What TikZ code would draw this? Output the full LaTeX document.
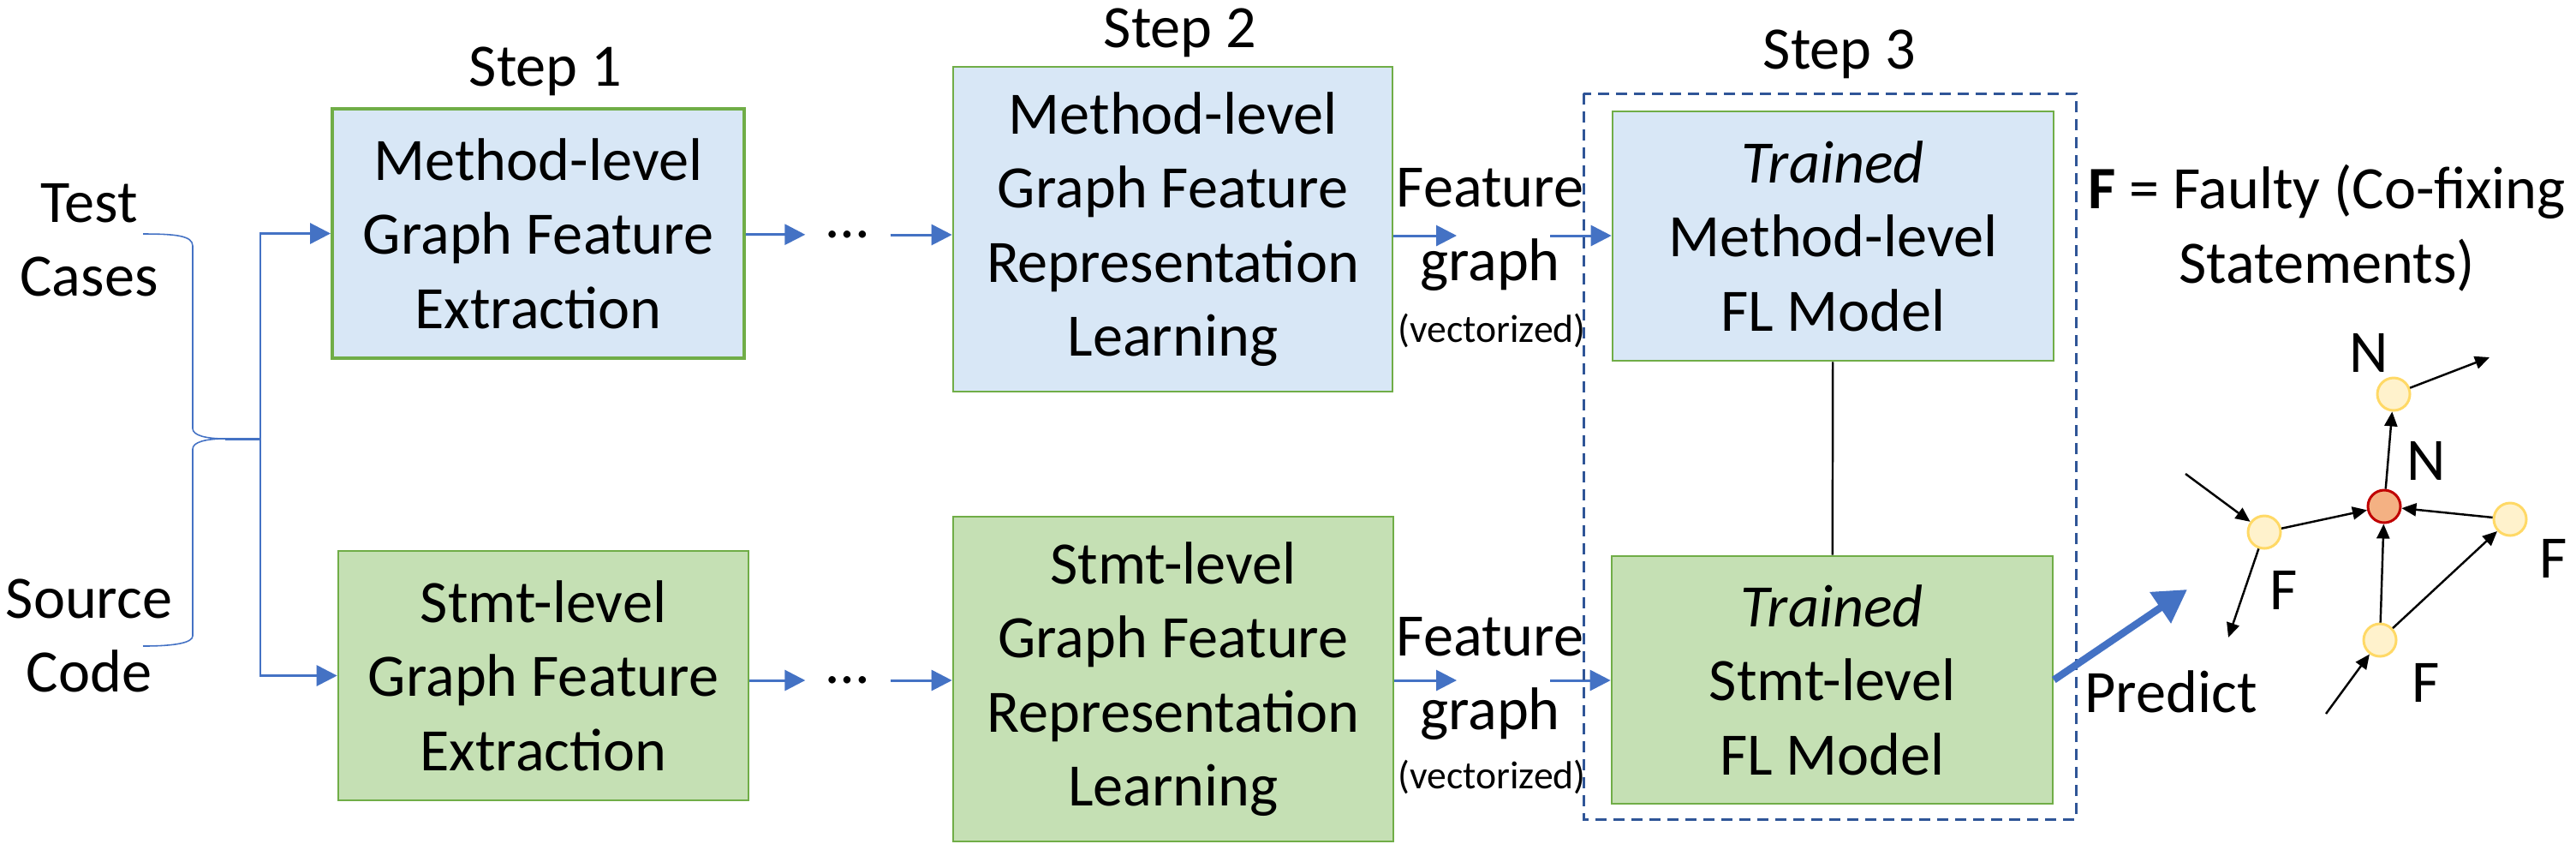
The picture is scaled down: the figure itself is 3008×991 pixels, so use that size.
\documentclass[tikz,border=0pt]{standalone}
\usepackage{fontspec}
\setmainfont{Carlito}
\usepackage{tikz}
\usetikzlibrary{arrows.meta}
\usepackage{xcolor}
\definecolor{arrowblue}{HTML}{4472C4}
\definecolor{boxgreen}{HTML}{70AD47}
\definecolor{fillgreen}{HTML}{C5E0B4}
\definecolor{fillblue}{HTML}{D8E7F6}
\definecolor{dashblue}{HTML}{2F5597}
\definecolor{nodefill}{HTML}{FFF2CC}
\definecolor{nodeline}{HTML}{FFD966}
\definecolor{hotfill}{HTML}{F4B183}
\definecolor{hotline}{HTML}{C00000}

\begin{document}
\begin{tikzpicture}[x=0.1mm, y=-0.1mm,
    every node/.style={font=\fontsize{20}{24.6}\selectfont},
    mbox/.style={draw=boxgreen, fill=fillblue, line width=0.75pt, align=center, inner sep=0pt},
    sbox/.style={mbox, fill=fillgreen},
    flow/.style={arrowblue, line width=0.85pt, -{Triangle[length=2.4mm,width=2.4mm]}},
    garrow/.style={line width=0.7pt, -{Triangle[length=1.7mm,width=1.5mm]}},
    vtx/.style={circle, draw=nodeline, fill=nodefill, line width=0.85pt, minimum size=3.8mm, inner sep=0pt},
    hot/.style={vtx, draw=hotline, fill=hotfill},
    txt/.style={align=center, inner sep=0pt}]
  \useasboundingbox (0,0) rectangle (3008,991);

  % inputs and the brace
  \node[txt] (tests) at (104,280) {Test\\Cases};
  \node[txt] (source) at (104,742) {Source\\Code};
  \draw[arrowblue, line width=0.45pt] (167,273) .. controls (205,273) and (225,275) .. (225,287)
    -- (225,500) .. controls (225,508) and (240,512) .. (263,512)
    .. controls (240,512) and (225,516) .. (225,524)
    -- (225,742) .. controls (225,750) and (205,754) .. (167,754);
  \coordinate (split) at (304,512);
  \draw[arrowblue, line width=0.85pt] (263,512) -- (split);

  % steps
  \node[anchor=base] (step1) at (637,100) {Step 1};
  \node[anchor=base] (step2) at (1378,55) {Step 2};
  \node[anchor=base] (step3) at (2148,80) {Step 3};

  % method-level row
  \node[mbox, line width=1.1pt, minimum width=48.1mm, minimum height=29.1mm] (mext) at (628.5,272.5)
    {Method-level\\Graph Feature\\Extraction};
  \node[mbox, minimum width=51.3mm, minimum height=37.9mm] (mrep) at (1369.5,267.5)
    {Method-level\\Graph Feature\\Representation\\Learning};
  \node[mbox, minimum width=51.5mm, minimum height=29.1mm] (mfl) at (2140.5,275.5)
    {\textit{Trained}\\Method-level\\FL Model};

  % stmt-level row
  \node[sbox, minimum width=47.9mm, minimum height=29.1mm] (sext) at (634.5,788.5)
    {Stmt-level\\Graph Feature\\Extraction};
  \node[sbox, minimum width=51.4mm, minimum height=37.9mm] (srep) at (1370,792.5)
    {Stmt-level\\Graph Feature\\Representation\\Learning};
  \node[sbox, minimum width=51.5mm, minimum height=28.9mm] (sfl) at (2139.5,793.5)
    {\textit{Trained}\\Stmt-level\\FL Model};

  \node[minimum width=9.8mm, inner sep=0pt] (mdots) at (990,274) {…};
  \node[minimum width=9.8mm, inner sep=0pt] (sdots) at (990,794) {…};

  \node[txt] (mfeat) at (1740,268) {Feature\\graph};
  \node[txt, font=\fontsize{13}{15}\selectfont] (mvec) at (1742,386) {(vectorized)};
  \node[txt] (sfeat) at (1740,792) {Feature\\graph};
  \node[txt, font=\fontsize{13}{15}\selectfont] (svec) at (1742,907) {(vectorized)};
  \coordinate (mfa) at (1701,275);
  \coordinate (mfb) at (1810,275);
  \coordinate (sfa) at (1701,794);
  \coordinate (sfb) at (1810,794);

  % flow arrows
  \draw[flow] (split) |- (mext);
  \draw[flow] (split) |- (sext);
  \draw[flow] (mext) -- (mdots);
  \draw[flow] (mdots) -- (mdots -| mrep.west);
  \draw[flow] (sdots -| sext.east) -- (sdots);
  \draw[flow] (sdots) -- (sdots -| srep.west);
  \draw[flow] (mfa -| mrep.east) -- (mfa);
  \draw[flow] (mfb) -- (mfb -| mfl.west);
  \draw[flow] (sfa -| srep.east) -- (sfa);
  \draw[flow] (sfb) -- (sfb -| sfl.west);
  \draw[line width=0.7pt] (mfl) -- (sfl);

  % step 3 frame
  \draw[dashblue, line width=0.85pt, dash pattern=on 1.3mm off 0.8mm] (1849,109) rectangle (2424,956);

  \node[txt] (legend) at (2717,266) {\textbf{F} = Faulty (Co-fixing\\Statements)};

  % prediction
  \coordinate (ptip) at (2554,688);
  \draw[arrowblue, line width=2.4pt, -{Triangle[length=3.8mm,width=4.2mm]}] (sfl.east) -- (ptip);
  \node[anchor=base] (predict) at (2535,831) {Predict};

  % statement graph
  \node[hot] (hub) at (2784,591) {};
  \node[vtx] (ntop) at (2795,460) {};
  \node[vtx] (fleft) at (2644,621) {};
  \node[vtx] (fright) at (2931,606) {};
  \node[vtx] (fbot) at (2779,747) {};
  \coordinate (fin) at (2552,553);
  \coordinate (fout) at (2602,744);
  \coordinate (bin) at (2716,833);
  \coordinate (nout) at (2907,417);
  \draw[garrow] (fin) -- (fleft);
  \draw[garrow] (fleft) -- (fout);
  \draw[garrow] (fleft) -- (hub);
  \draw[garrow] (fright) -- (hub);
  \draw[garrow] (fbot) -- (hub);
  \draw[garrow] (fbot) -- (fright);
  \draw[garrow] (bin) -- (fbot);
  \draw[garrow] (hub) -- (ntop);
  \draw[garrow] (ntop) -- (nout);
  \node (ltop) at (2766,412) {N};
  \node (lhub) at (2833,538) {N};
  \node (lleft) at (2667,689) {F};
  \node (lright) at (2982,652) {F};
  \node (lbot) at (2833,797) {F};
\end{tikzpicture}
\end{document}
